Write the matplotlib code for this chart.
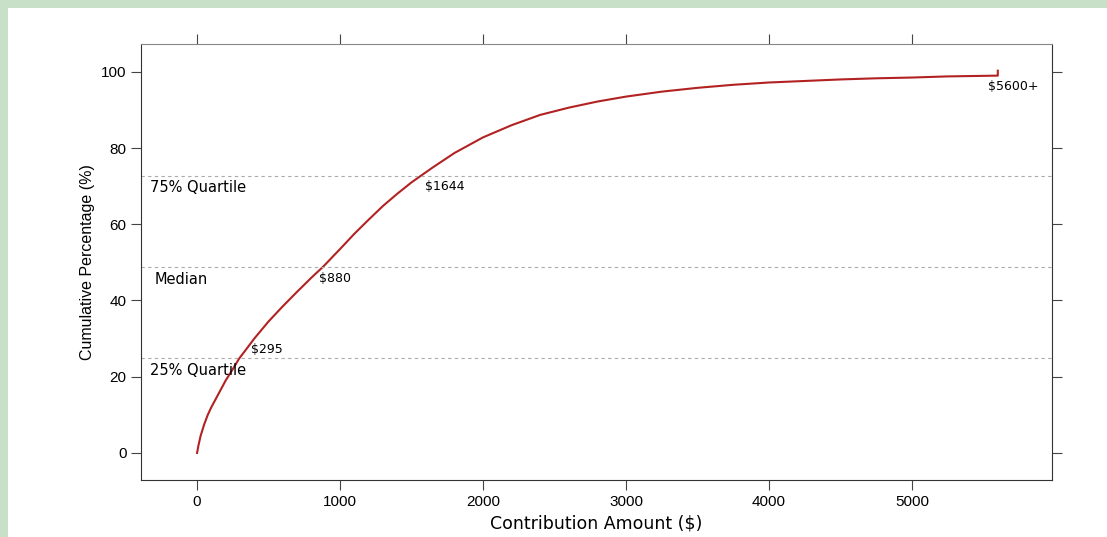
import matplotlib.pyplot as plt

plt.rcParams['font.family'] = ['Liberation Sans', 'DejaVu Sans']

# contribution amount vs cumulative percentage
amount = [0, 10, 25, 50, 75, 100, 150, 200, 250, 295, 350, 400, 500, 600, 700, 800, 880,
          1000, 1100, 1200, 1300, 1400, 1500, 1644, 1800, 2000, 2200, 2400, 2600, 2800,
          3000, 3250, 3500, 3750, 4000, 4250, 4500, 4750, 5000, 5250, 5600, 5600]
cumpct = [0, 2, 4.5, 7.5, 10, 12, 15.5, 19, 22, 24.8, 27.5, 30, 34.5, 38.5, 42.3, 46, 48.8,
          53.5, 57.5, 61.2, 64.8, 68, 71, 74.8, 78.7, 82.8, 86, 88.7, 90.6, 92.2,
          93.5, 94.8, 95.8, 96.6, 97.2, 97.6, 98, 98.3, 98.5, 98.8, 99.0, 100.3]
quartile_y = [24.8, 48.8, 72.7]
quartile_names = ['25% Quartile', 'Median', '75% Quartile']
name_x = [-330, -300, -330]
name_font = dict(family='DejaVu Sans', fontsize=10.5, fontstretch='expanded')

fig = plt.figure(figsize=(11.07, 5.37), dpi=100)
fig.patch.set_facecolor('#c8e0c8')
fig.add_artist(plt.Rectangle((8 / 1107, 0), 1, 1 - 8 / 537, transform=fig.transFigure,
                             facecolor='white', edgecolor='none', zorder=-1))
ax = fig.add_axes([141 / 1107, 1 - 480 / 537, 911 / 1107, 436 / 537])

ax.plot(amount, cumpct, color='#b22222', lw=1.5)
for y, name, nx in zip(quartile_y, quartile_names, name_x):
    ax.axhline(y, color='#aaaaaa', lw=0.8, ls=(0, (3, 3)))
    ax.text(nx, y - 1.2, name, va='top', **name_font)
ax.text(380, 24.8 + 0.6, '$295', fontsize=9, va='bottom', family='DejaVu Sans')
ax.text(850, 48.8 - 1.2, '$880', fontsize=9, va='top', family='DejaVu Sans')
ax.text(1594, 72.7 - 1.2, '$1644', fontsize=9, va='top', family='DejaVu Sans')
ax.text(5530, 99 - 1.2, '$5600+', fontsize=9, va='top', family='DejaVu Sans')

ax.set_xlim(-392, 5979)
ax.set_ylim(-7.1, 107.3)
ax.set_xticks([0, 1000, 2000, 3000, 4000, 5000])
ax.set_yticks([0, 20, 40, 60, 80, 100])
ax.tick_params(direction='out', length=7, top=True, right=True, labelsize=11, color='#444444')
for s in ax.spines.values():
    s.set_color('#333333')
ax.spines['top'].set_color('#888888')
ax.set_xlabel('Contribution Amount ($)', fontsize=12.5, family='DejaVu Sans')
ax.set_ylabel('Cumulative Percentage (%)', fontsize=11.5)
fig.savefig('out.png', dpi=100)
